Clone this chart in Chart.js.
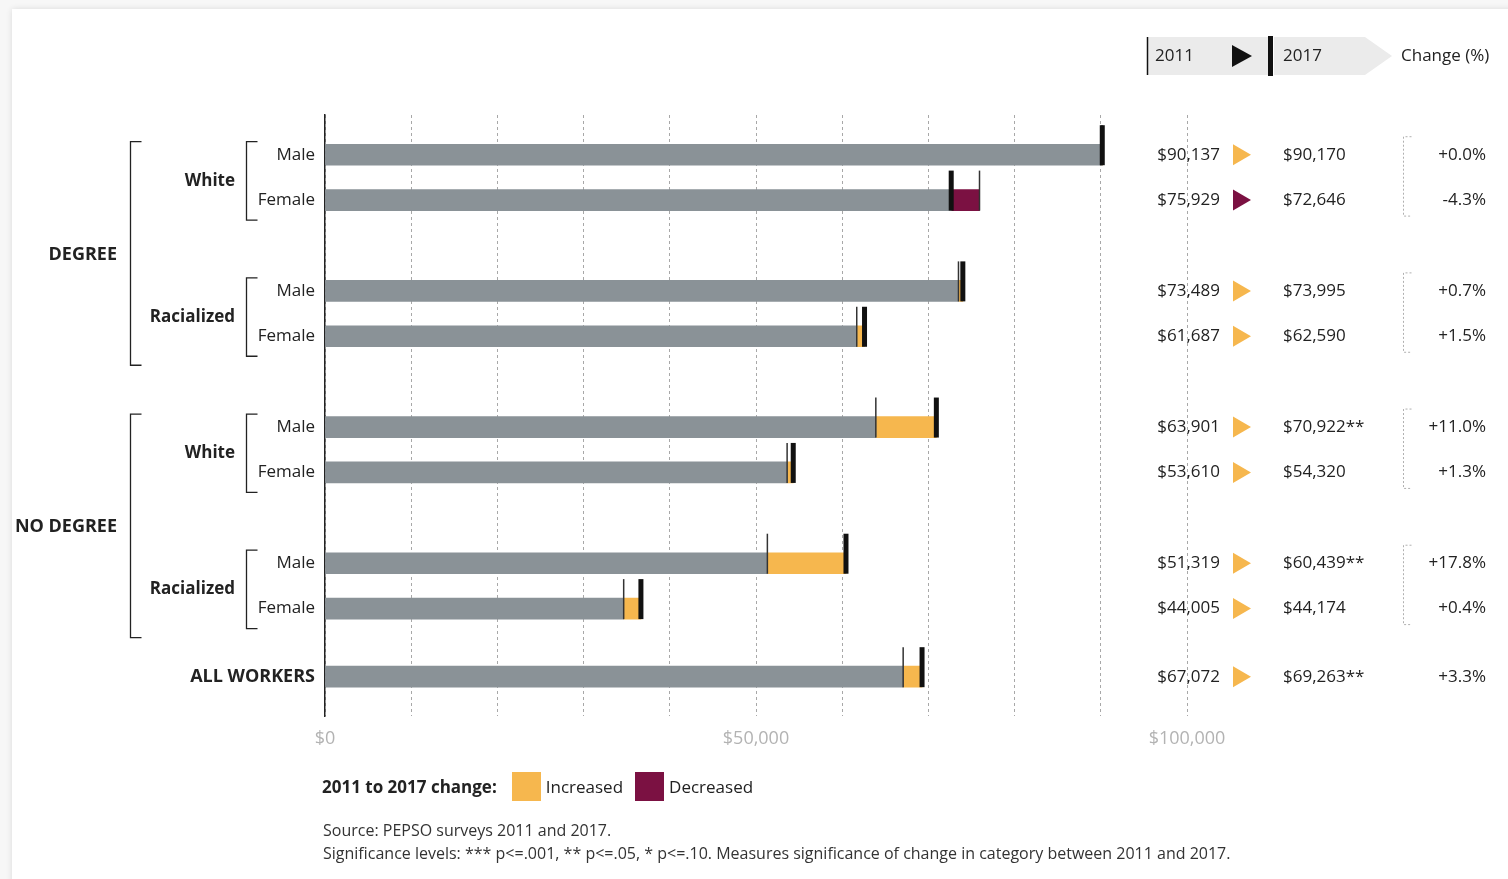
<!DOCTYPE html>
<html>
<head>
<meta charset="utf-8">
<script src="https://cdn.jsdelivr.net/npm/chart.js@4.4.1/dist/chart.umd.min.js"></script>
<style>
    html, body { margin: 0; padding: 0; width: 1508px; height: 879px; overflow: hidden; background: #f7f7f7; font-family: 'Open Sans', sans-serif; }
    .card { position: absolute; left: 12px; top: 9px; width: 1510px; height: 890px; background: #fff; box-shadow: 0 0 6px rgba(0,0,0,0.12); }
    #earnings { position: absolute; left: 0; top: 0; }
    .legend { position: absolute; left: 322px; top: 771px; height: 30px; display: flex; align-items: center; font-size: 17px; color: #222; }
    .legend b { margin-right: 15px; }
    .legend .box { width: 29px; height: 29px; margin-right: 5px; }
    .legend .lbl { margin-right: 12px; }
    .source { position: absolute; left: 323px; top: 819px; font-size: 16px; line-height: 23px; color: #333; white-space: nowrap; }
</style>
</head>
<body>
<div class="card"></div>
<canvas id="earnings" width="1508" height="879"></canvas>
<div class="legend">
    <b>2011 to 2017 change:</b>
    <span class="box" style="background:#f6b74e"></span><span class="lbl">Increased</span>
    <span class="box" style="background:#7b1142"></span><span class="lbl">Decreased</span>
</div>
<div class="source">
    Source: PEPSO surveys 2011 and 2017.<br>
    Significance levels: *** p&lt;=.001, ** p&lt;=.05, * p&lt;=.10. Measures significance of change in category between 2011 and 2017.
</div>
<script>
// --- data ---
const educationLabels = ['DEGREE', 'NO DEGREE'];
const raceLabels = ['White', 'Racialized', 'White', 'Racialized'];
const rowLabels = ['Male', 'Female', 'Male', 'Female', 'Male', 'Female', 'Male', 'Female', 'ALL WORKERS'];
// values printed in the table
const earnings2011 = [90137, 75929, 73489, 61687, 63901, 53610, 51319, 44005, 67072];
const earnings2017 = [90170, 72646, 73995, 62590, 70922, 54320, 60439, 44174, 69263];
// where the bars are drawn (the racialized / no degree female bar sits lower than its label)
const bar2011 = [90137, 75929, 73489, 61687, 63901, 53610, 51319, 34650, 67072];
const bar2017 = [90170, 72646, 73995, 62590, 70922, 54320, 60439, 36650, 69263];
const significance2017 = ['', '', '', '', '**', '', '**', '', '**'];
const changePct = ['+0.0%', '-4.3%', '+0.7%', '+1.5%', '+11.0%', '+1.3%', '+17.8%', '+0.4%', '+3.3%'];
const xTickLabels = { 0: '$0', 50000: '$50,000', 100000: '$100,000' };

// --- layout: rows sit on slots of a finer category axis so the group gaps show ---
const rowSlots = [3, 7, 15, 19, 27, 31, 39, 43, 49];
const SLOT_COUNT = 53;
const BAR = 21;

const colors = {
    bar: '#8a9297',
    up: '#f6b74e',
    down: '#7b1142',
    marker: '#111',
    text: '#222',
    tick: '#b3b3b3',
    grid: '#a8a8a8',
    header: '#ebebeb'
};
const FONT = "'Open Sans', sans-serif";

const slotLabels = Array.from({ length: SLOT_COUNT }, () => '');
const baseData = Array(SLOT_COUNT).fill(null);
const changeData = Array(SLOT_COUNT).fill(null);
const changeColors = Array(SLOT_COUNT).fill(colors.up);
rowSlots.forEach((s, i) => {
    const lo = Math.min(bar2011[i], bar2017[i]);
    const hi = Math.max(bar2011[i], bar2017[i]);
    slotLabels[s] = rowLabels[i];
    baseData[s] = [0, lo];
    changeData[s] = [lo, hi];
    changeColors[s] = bar2017[i] >= bar2011[i] ? colors.up : colors.down;
});

const money = v => '$' + v.toLocaleString('en-US');

// 2011 thin line + 2017 thick marker
const markers = {
    id: 'markers',
    afterDatasetsDraw(chart) {
        const { ctx, scales: { x, y } } = chart;
        ctx.save();
        rowSlots.forEach((s, i) => {
            const yc = y.getPixelForValue(s);
            const top = yc - BAR / 2 - 19, bottom = yc + BAR / 2;
            const x11 = x.getPixelForValue(bar2011[i]);
            const x17 = x.getPixelForValue(bar2017[i]);
            ctx.strokeStyle = '#333';
            ctx.lineWidth = 1.5;
            ctx.beginPath();
            ctx.moveTo(x11, top);
            ctx.lineTo(x11, bottom);
            ctx.stroke();
            ctx.fillStyle = colors.marker;
            ctx.fillRect(x17 - 2.5, top, 5, bottom - top);
        });
        ctx.restore();
    }
};

function bracket(ctx, x, top, bottom, tick) {
    ctx.beginPath();
    ctx.moveTo(x + tick, top);
    ctx.lineTo(x, top);
    ctx.lineTo(x, bottom);
    ctx.lineTo(x + tick, bottom);
    ctx.stroke();
}

// row labels, brackets, table on the right and its header
const annotations = {
    id: 'annotations',
    afterDraw(chart) {
        const { ctx, scales: { y } } = chart;
        const yc = i => y.getPixelForValue(rowSlots[i]);
        ctx.save();
        ctx.textBaseline = 'middle';
        ctx.fillStyle = colors.text;
        ctx.strokeStyle = colors.text;
        ctx.lineWidth = 1.3;

        // row labels
        ctx.textAlign = 'right';
        rowLabels.forEach((t, i) => {
            ctx.font = i === rowLabels.length - 1 ? 'bold 18px ' + FONT : '17px ' + FONT;
            ctx.fillText(t, 315, yc(i));
        });

        // race brackets
        const inner = raceLabels.map((t, k) => {
            const top = yc(2 * k) - 13, bottom = yc(2 * k + 1) + 20;
            bracket(ctx, 246.5, top, bottom, 11);
            ctx.font = 'bold 17px ' + FONT;
            ctx.fillText(t, 235, (top + bottom) / 2);
            return { top, bottom };
        });

        // education brackets
        educationLabels.forEach((t, k) => {
            const top = inner[2 * k].top, bottom = inner[2 * k + 1].bottom + 9;
            bracket(ctx, 130.5, top, bottom, 11);
            ctx.font = 'bold 18px ' + FONT;
            ctx.fillText(t, 117, (top + bottom) / 2 + 1);
        });

        // header
        ctx.fillStyle = colors.header;
        ctx.fillRect(1147, 37, 123, 38);
        ctx.beginPath();
        ctx.moveTo(1274, 37); ctx.lineTo(1365, 37); ctx.lineTo(1392, 56);
        ctx.lineTo(1365, 75); ctx.lineTo(1274, 75); ctx.closePath();
        ctx.fill();
        ctx.strokeStyle = '#111';
        ctx.lineWidth = 1.5;
        ctx.beginPath(); ctx.moveTo(1147.5, 37); ctx.lineTo(1147.5, 75); ctx.stroke();
        ctx.fillStyle = '#111';
        ctx.fillRect(1268, 36, 5, 40);
        ctx.beginPath();
        ctx.moveTo(1232, 45); ctx.lineTo(1252, 56); ctx.lineTo(1232, 67); ctx.closePath();
        ctx.fill();
        ctx.fillStyle = colors.text;
        ctx.font = '17px ' + FONT;
        ctx.textAlign = 'left';
        ctx.fillText('2011', 1155, 56);
        ctx.fillText('2017', 1283, 56);
        ctx.fillText('Change (%)', 1401, 56);

        // table rows
        rowSlots.forEach((s, i) => {
            const yy = yc(i);
            ctx.fillStyle = colors.text;
            ctx.textAlign = 'right';
            ctx.fillText(money(earnings2011[i]), 1220, yy);
            ctx.fillText(changePct[i], 1486, yy);
            ctx.textAlign = 'left';
            ctx.fillText(money(earnings2017[i]) + significance2017[i], 1283, yy);
            ctx.fillStyle = earnings2017[i] >= earnings2011[i] ? colors.up : colors.down;
            ctx.beginPath();
            ctx.moveTo(1233, yy - 10.5); ctx.lineTo(1251, yy); ctx.lineTo(1233, yy + 10.5);
            ctx.closePath();
            ctx.fill();
        });

        // dotted brackets joining each male/female pair
        ctx.strokeStyle = '#b0b0b0';
        ctx.lineWidth = 1;
        ctx.setLineDash([2, 2]);
        raceLabels.forEach((_, k) => {
            bracket(ctx, 1403.5, yc(2 * k) - 18, yc(2 * k + 1) + 16, 8);
        });
        ctx.restore();
    }
};

new Chart(document.getElementById('earnings'), {
    type: 'bar',
    data: {
        labels: slotLabels,
        datasets: [
            {
                label: 'Base',
                data: baseData,
                backgroundColor: colors.bar,
                barThickness: BAR,
                grouped: false
            },
            {
                label: 'Change',
                data: changeData,
                backgroundColor: changeColors,
                barThickness: BAR,
                grouped: false
            }
        ]
    },
    options: {
        indexAxis: 'y',
        responsive: false,
        animation: false,
        layout: { padding: { left: 317, right: 321, top: 115, bottom: 117 } },
        plugins: {
            legend: { display: false },
            tooltip: { enabled: false }
        },
        scales: {
            x: {
                min: 0,
                max: 100000,
                ticks: {
                    stepSize: 10000,
                    padding: 12,
                    color: colors.tick,
                    font: { family: FONT, size: 18 },
                    callback: v => xTickLabels[v] || ''
                },
                grid: { color: colors.grid, lineWidth: 1, drawTicks: false },
                border: { display: false, dash: [3, 3] }
            },
            y: {
                offset: true,
                ticks: { display: false },
                grid: { display: false },
                border: { display: true, color: '#222', width: 1.5 }
            }
        }
    },
    plugins: [markers, annotations]
});
</script>
</body>
</html>
